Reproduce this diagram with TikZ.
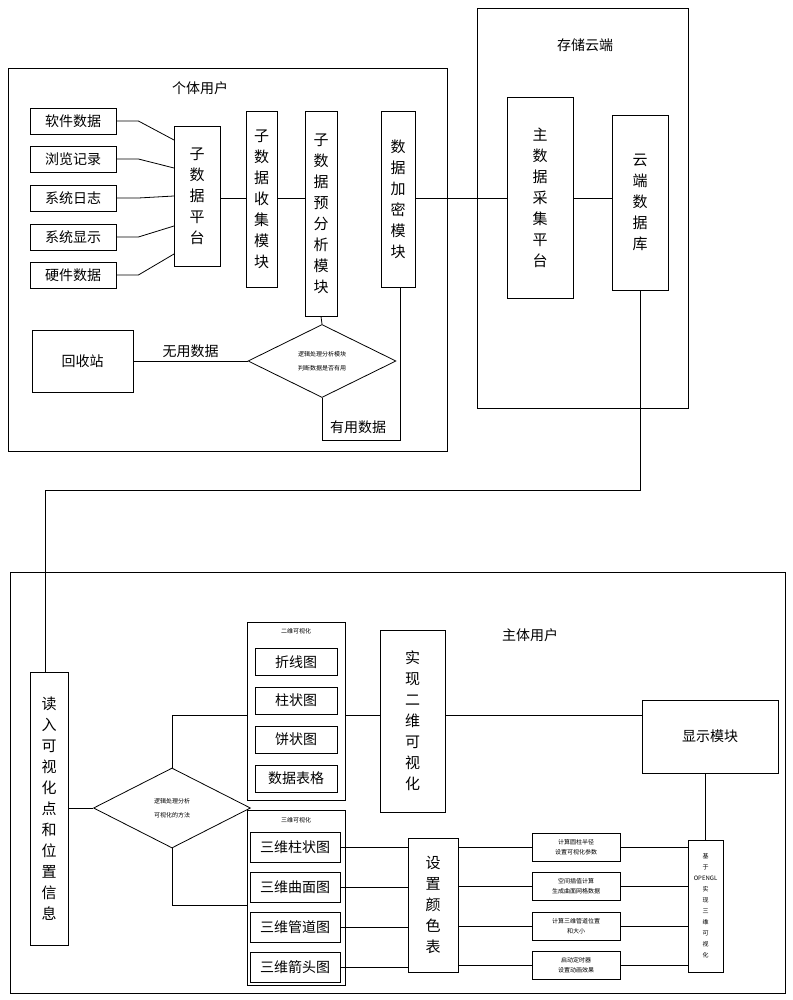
\documentclass[tikz,border=0pt]{standalone}
\usepackage{fontspec}
\setmainfont{Noto Sans CJK SC}
\usetikzlibrary{calc,shapes.geometric}

\tikzset{
	box/.style={draw, thick, inner sep=0pt},
	txt/.style={font=\fontsize{14}{16}\selectfont},
	vtxt/.style={font=\fontsize{15}{21}\selectfont, align=center},
	tiny/.style={font=\fontsize{6}{10}\selectfont, align=center},
	line/.style={thick}
}
\newcommand{\rbox}[4]{\node[box, minimum width=#3, minimum height=#4, anchor=north west] (#1) at #2 {};}

\begin{document}
\begin{tikzpicture}[x=1pt,y=-1pt]
	\useasboundingbox (0,0) rectangle (792,1000);
	% outer frames
	\draw[thick] (8,68) rectangle (447,451);
	\node[txt] at (200,88) {个体用户};
	\draw[thick] (477,8) rectangle (688,408);
	\node[txt] at (585,45) {存储云端};
	\draw[thick] (10,572) rectangle (785,993);
	\node[txt] at (530,635) {主体用户};
	
	% sources
	\foreach \y/\t/\n in {121/软件数据/s1, 159/浏览记录/s2, 198/系统日志/s3, 237/系统显示/s4, 275/硬件数据/s5}
		\node[box, txt, minimum width=86, minimum height=26] (\n) at (73,\y) {\t};
	\node[box, vtxt, minimum width=46, minimum height=140] (plat) at (197,196) {子\\数\\据\\平\\台};
	\foreach \n/\y in {s1/140, s2/168, s3/196, s4/226, s5/254}
		\draw[line] (\n.east) -- ++(22,0) -- (174,\y);
	\node[box, vtxt, minimum width=31, minimum height=176] (coll) at (261.5,199) {子\\数\\据\\收\\集\\模\\块};
	\node[box, vtxt, minimum width=32, minimum height=205] (pre) at (321,213.5) {子\\数\\据\\预\\分\\析\\模\\块};
	\node[box, vtxt, minimum width=34, minimum height=176] (enc) at (398,199) {数\\据\\加\\密\\模\\块};
	\node[box, vtxt, minimum width=66, minimum height=201] (main) at (540,197.5) {主\\数\\据\\采\\集\\平\\台};
	\node[box, vtxt, minimum width=56, minimum height=175] (db) at (640,202.5) {云\\端\\数\\据\\库};
	\draw[line] (plat.east |- 0,198) -- (coll.west |- 0,198);
	\draw[line] (coll.east |- 0,198) -- (pre.west |- 0,198);
	\draw[line] (enc.east |- 0,198) -- (main.west |- 0,198);
	\draw[line] (main.east |- 0,198) -- (db.west |- 0,198);
	
	% judgement
	\node[draw, thick, diamond, aspect=2, minimum width=148, minimum height=73, inner sep=0pt] (dec) at (322,361) {};
	\node[tiny] at (dec) {逻辑处理分析模块\\[4pt]判断数据是否有用};
	\draw[line] (pre.south) -- (dec.north);
	\node[box, txt, minimum width=101, minimum height=62] (bin) at (82.5,361) {回收站};
	\draw[line] (bin.east) -- node[above, txt]{无用数据} (dec.west);
	\coordinate (u1) at (322,440);
	\coordinate (u2) at (400,440);
	\draw[line] (dec.south) -- (u1) -- (u2) -- (u2 |- enc.south);
	\node[txt] at (358,427) {有用数据};
	
	% to user side
	\node[box, vtxt, minimum width=38, minimum height=273] (read) at (49,808.5) {读\\入\\可\\视\\化\\点\\和\\位\\置\\信\\息};
	\coordinate (c1) at (640,490);
	\coordinate (c2) at (45,490);
	\draw[line] (db.south) -- (c1) -- (c2) -- (c2 |- read.north);
	
	\node[draw, thick, diamond, aspect=2, minimum width=157, minimum height=80, inner sep=0pt] (vis) at (172,808) {};
	\node[tiny] at (vis) {逻辑处理分析\\[4pt]可视化的方法};
	\draw[line] (read.east |- vis) -- (vis.west);
	
	% 2D
	\draw[thick] (247,622) rectangle (345,800);
	\node[tiny] at (296,631) {二维可视化};
	\foreach \y/\t/\n in {662/折线图/a1, 700.5/柱状图/a2, 739.5/饼状图/a3, 778.5/数据表格/a4}
		\node[box, txt, minimum width=82, minimum height=27] (\n) at (296,\y) {\t};
	\node[box, vtxt, minimum width=65, minimum height=182] (two) at (412.5,721) {实\\现\\二\\维\\可\\视\\化};
	\node[box, txt, minimum width=136, minimum height=73] (show) at (710,736.5) {显示模块};
	\coordinate (d1) at (172,715);
	\draw[line] (vis.north) -- (d1) -- (247,715);
	\draw[line] (345,715) -- (two.west |- 0,715);
	\draw[line] (two.east |- 0,715) -- (show.west |- 0,715);
	
	% 3D
	\draw[thick] (247,810) rectangle (345,985);
	\node[tiny] at (296,820) {三维可视化};
	\foreach \y/\t/\n in {847/三维柱状图/b1, 887/三维曲面图/b2, 927/三维管道图/b3, 967/三维箭头图/b4}
		\node[box, txt, minimum width=90, minimum height=30] (\n) at (295,\y) {\t};
	\coordinate (d2) at (172,905);
	\draw[line] (vis.south) -- (d2) -- (247,905);
	\node[box, vtxt, minimum width=50, minimum height=134] (col) at (433,905) {设\\置\\颜\\色\\表};
	\node[box, tiny, minimum width=35, minimum height=132, font=\fontsize{6}{11}\selectfont] (gl) at (705.5,906) {基\\于\\OPENGL\\实\\现\\三\\维\\可\\视\\化};
	\draw[line] (show.south -| gl.north) -- (gl.north);
	\foreach \y/\t/\n in {847/{计算圆柱半径\\设置可视化参数}/c1, 886/{空间插值计算\\生成曲面网格数据}/c2, 926/{计算三维管道位置\\和大小}/c3, 965/{启动定时器\\设置动画效果}/c4}
		\node[box, tiny, minimum width=88, minimum height=28] (\n) at (576,\y) {\t};
	\foreach \b/\c in {b1/c1, b2/c2, b3/c3, b4/c4} {
		\draw[line] (\b.east) -- (\b.east -| col.west);
		\draw[line] (\c.west -| col.east) -- (\c.west);
		\draw[line] (\c.east) -- (\c.east -| gl.west);
	}
\end{tikzpicture}
\end{document}
